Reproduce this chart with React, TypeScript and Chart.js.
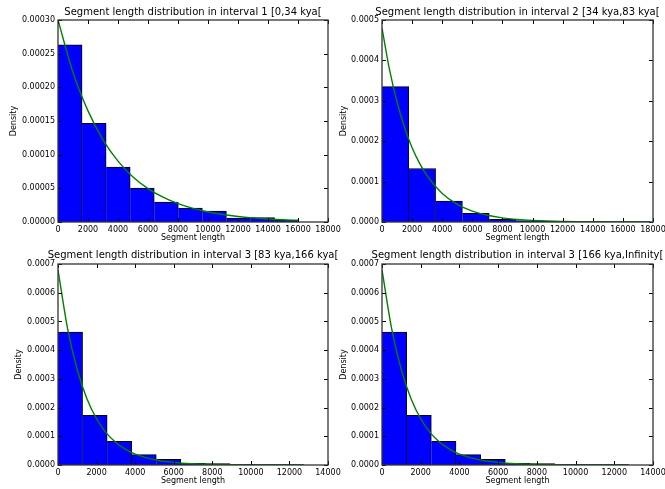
import React, { useEffect, useRef } from 'react';
import { Chart, registerables } from 'chart.js';

Chart.register(...registerables);

// ---------- data ----------
const TITLES = [
  'Segment length distribution in interval 1 [0,34 kya[',
  'Segment length distribution in interval 2 [34 kya,83 kya[',
  'Segment length distribution in interval 3 [83 kya,166 kya[',
  'Segment length distribution in interval 3 [166 kya,Infinity[',
];
const X_LABEL = 'Segment length';
const Y_LABEL = 'Density';

const BIN_EDGES_1 = [0, 1604, 3208, 4812, 6416, 8020, 9624, 11228, 12832, 14436, 16040];
const DENSITY_1 = [0.000263, 0.0001465, 0.0000814, 0.0000503, 0.0000296, 0.0000207, 0.0000163, 0.0000059, 0.0000064, 0.0000025];
const FIT_X_1 = [0, 1000, 2000, 3000, 4000, 5000, 6000, 7000, 8000, 9000, 10000, 11000, 12000, 13000, 14000, 15000, 16040];
const FIT_Y_1 = [0.0003, 0.000222, 0.000165, 0.000122, 0.0000904, 0.0000669, 0.0000496, 0.0000368, 0.0000272, 0.0000202, 0.0000149, 0.0000111, 0.0000082, 0.0000061, 0.0000045, 0.0000033, 0.0000025];

const BIN_EDGES_2 = [0, 1780, 3560, 5340, 7120, 8900, 10680, 12460, 14240, 16020, 17800];
const DENSITY_2 = [0.000335, 0.0001324, 0.0000518, 0.0000214, 0.0000066, 0.0000033, 0.0000016, 0.0000008, 0.0000005, 0.0000005];
const FIT_X_2 = [0, 500, 1000, 1500, 2000, 2500, 3000, 4000, 5000, 6000, 7000, 8000, 9000, 10000, 11000, 12000, 13000, 14000, 15000, 16000, 17800];
const FIT_Y_2 = [0.00048, 0.000377, 0.000297, 0.000234, 0.000184, 0.000145, 0.000114, 0.0000704, 0.0000435, 0.0000269, 0.0000167, 0.0000103, 0.0000064, 0.000004, 0.0000024, 0.0000015, 0.0000009, 0.0000006, 0.0000004, 0.0000002, 0.0000001];

const BIN_EDGES_3 = [0, 1274, 2548, 3822, 5096, 6370, 7644, 8918, 10192, 11466, 12740];
const DENSITY_3 = [0.000463, 0.000173, 0.0000824, 0.000036, 0.0000197, 0.0000058, 0.0000046, 0.0000023, 0.0000012, 0.0000012];
const FIT_X_3 = [0, 500, 1000, 1500, 2000, 2500, 3000, 3500, 4000, 5000, 6000, 7000, 8000, 9000, 10000, 11000, 12000, 12740];
const FIT_Y_3 = [0.00068, 0.000474, 0.000331, 0.000231, 0.000161, 0.000112, 0.0000784, 0.0000547, 0.0000382, 0.0000186, 0.000009, 0.0000044, 0.0000021, 0.000001, 0.0000005, 0.0000002, 0.0000001, 0.0000001];

const BIN_EDGES_4 = [0, 1274, 2548, 3822, 5096, 6370, 7644, 8918, 10192, 11466, 12740];
const DENSITY_4 = [0.000463, 0.000173, 0.0000824, 0.000036, 0.0000197, 0.0000058, 0.0000046, 0.0000023, 0.0000012, 0.0000012];
const FIT_X_4 = [0, 500, 1000, 1500, 2000, 2500, 3000, 3500, 4000, 5000, 6000, 7000, 8000, 9000, 10000, 11000, 12000, 12740];
const FIT_Y_4 = [0.00068, 0.000474, 0.000331, 0.000231, 0.000161, 0.000112, 0.0000784, 0.0000547, 0.0000382, 0.0000186, 0.000009, 0.0000044, 0.0000021, 0.000001, 0.0000005, 0.0000002, 0.0000001, 0.0000001];

const X_MAX = [18000, 18000, 14000, 14000];
const X_STEP = [2000, 2000, 2000, 2000];
const Y_MAX = [0.0003, 0.0005, 0.0007, 0.0007];
const Y_STEP = [0.00005, 0.0001, 0.0001, 0.0001];
const Y_DECIMALS = [5, 4, 4, 4];

const PANELS = [
  { edges: BIN_EDGES_1, dens: DENSITY_1, fx: FIT_X_1, fy: FIT_Y_1 },
  { edges: BIN_EDGES_2, dens: DENSITY_2, fx: FIT_X_2, fy: FIT_Y_2 },
  { edges: BIN_EDGES_3, dens: DENSITY_3, fx: FIT_X_3, fy: FIT_Y_3 },
  { edges: BIN_EDGES_4, dens: DENSITY_4, fx: FIT_X_4, fy: FIT_Y_4 },
];

// ---------- layout ----------
const AREAS = [
  { left: 58, top: 20, width: 270, height: 202, yTitlePad: 9, titleGap: 5 },
  { left: 382, top: 20, width: 271, height: 202, yTitlePad: 15, titleGap: 5 },
  { left: 58, top: 264, width: 270, height: 201, yTitlePad: 14, titleGap: 6.5 },
  { left: 382, top: 264, width: 271, height: 201, yTitlePad: 15, titleGap: 6.5 },
];
const Y_AXIS_W = 58;
const TOP_PAD = 20;
const RIGHT_PAD = 16;
const X_AXIS_H = 26;
const FONT_FAMILY = '"DejaVu Sans", sans-serif';

const framePlugin = {
  id: 'mplFrame',
  afterDatasetsDraw(chart: any, _args: any, opts: any) {
    const { ctx, chartArea: a, scales } = chart;
    const x = scales.x;
    const y = scales.y;
    ctx.save();
    ctx.strokeStyle = '#000';
    ctx.lineWidth = 1;
    const L = 4;
    ctx.beginPath();
    x.ticks.forEach((t: any) => {
      const px = Math.round(x.getPixelForValue(t.value)) + 0.5;
      ctx.moveTo(px, a.bottom);
      ctx.lineTo(px, a.bottom - L);
      ctx.moveTo(px, a.top);
      ctx.lineTo(px, a.top + L);
    });
    y.ticks.forEach((t: any) => {
      const py = Math.round(y.getPixelForValue(t.value)) + 0.5;
      ctx.moveTo(a.left, py);
      ctx.lineTo(a.left + L, py);
      ctx.moveTo(a.right, py);
      ctx.lineTo(a.right - L, py);
    });
    ctx.stroke();
    ctx.strokeStyle = '#333';
    ctx.lineWidth = 1.3;
    ctx.strokeRect(a.left, a.top, a.right - a.left, a.bottom - a.top);
    ctx.fillStyle = '#000';
    ctx.font = '10px ' + FONT_FAMILY;
    ctx.textAlign = 'center';
    ctx.textBaseline = 'alphabetic';
    ctx.fillText(opts.text, (a.left + a.right) / 2, a.top - opts.gap);
    ctx.restore();
  },
};

function Panel({ idx }: { idx: number }) {
  const ref = useRef<HTMLCanvasElement | null>(null);
  const area = AREAS[idx];
  const w = Y_AXIS_W + area.width + RIGHT_PAD;
  const h = TOP_PAD + area.height + X_AXIS_H;

  useEffect(() => {
    if (!ref.current) return;
    const p = PANELS[idx];
    const bars = p.dens.map((d, i) => ({ x: (p.edges[i] + p.edges[i + 1]) / 2, y: d }));
    const fit = p.fx.map((x, i) => ({ x, y: p.fy[i] }));
    const font = { family: FONT_FAMILY, size: 8 };
    const chart = new Chart(ref.current, {
      type: 'bar',
      data: {
        datasets: [
          {
            type: 'line',
            data: fit,
            borderColor: '#008000',
            borderWidth: 1.4,
            pointRadius: 0,
            cubicInterpolationMode: 'monotone',
            fill: false,
            order: 0,
          } as any,
          {
            type: 'bar',
            data: bars,
            backgroundColor: '#0000ff',
            borderColor: '#000',
            borderWidth: { top: 1, right: 1, left: 0, bottom: 0 },
            borderSkipped: false,
            barPercentage: 1,
            categoryPercentage: 1,
            order: 1,
          } as any,
        ],
      },
      options: {
        animation: false,
        responsive: false,
        devicePixelRatio: 1,
        events: [],
        layout: { padding: { left: 0, top: TOP_PAD, right: RIGHT_PAD, bottom: 0 } },
        plugins: {
          legend: { display: false },
          tooltip: { enabled: false },
          title: { display: false },
          mplFrame: { text: TITLES[idx], gap: area.titleGap },
        } as any,
        scales: {
          x: {
            type: 'linear',
            min: 0,
            max: X_MAX[idx],
            offset: false,
            grid: { display: false, drawTicks: false },
            border: { display: false },
            ticks: {
              stepSize: X_STEP[idx],
              font,
              color: '#000',
              padding: 3,
              maxRotation: 0,
              autoSkip: false,
              callback: (v: any) => String(v),
            },
            title: { display: true, text: X_LABEL, font, color: '#000', padding: { top: 0, bottom: 5 } },
            afterFit: (s: any) => {
              s.height = X_AXIS_H;
            },
          },
          y: {
            type: 'linear',
            min: 0,
            max: Y_MAX[idx],
            grid: { display: false, drawTicks: false },
            border: { display: false },
            ticks: {
              stepSize: Y_STEP[idx],
              font,
              color: '#000',
              padding: 3,
              autoSkip: false,
              callback: (v: any) => Number(v).toFixed(Y_DECIMALS[idx]),
            },
            title: { display: true, text: Y_LABEL, font, color: '#000', padding: { top: area.yTitlePad, bottom: 0 } },
            afterFit: (s: any) => {
              s.width = Y_AXIS_W;
            },
          },
        },
      } as any,
      plugins: [framePlugin],
    });
    return () => chart.destroy();
  }, [idx]);

  return (
    <canvas
      ref={ref}
      width={w}
      height={h}
      style={{ position: 'absolute', left: area.left - Y_AXIS_W, top: area.top - TOP_PAD, width: w, height: h }}
    />
  );
}

export default function App() {
  return (
    <div
      style={{
        position: 'fixed',
        left: 0,
        top: 0,
        width: 665,
        height: 489,
        overflow: 'hidden',
        background: '#fff',
      }}
    >
      {[0, 1, 2, 3].map((i) => (
        <Panel key={i} idx={i} />
      ))}
    </div>
  );
}
